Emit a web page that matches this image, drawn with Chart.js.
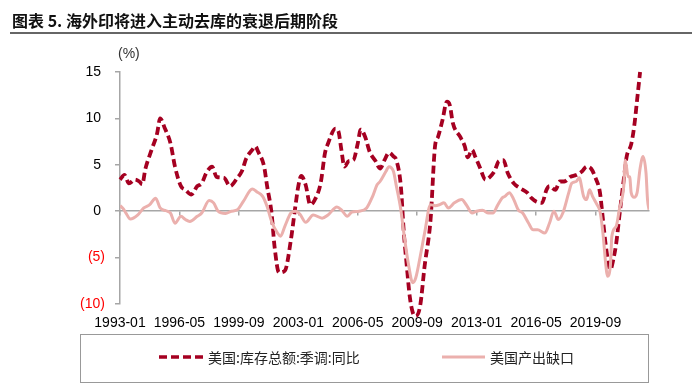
<!DOCTYPE html>
<html>
<head>
<meta charset="utf-8">
<script src="https://cdn.jsdelivr.net/npm/chart.js@4.4.0/dist/chart.umd.min.js"></script>
<style>
    body { margin: 0; background: #fff; }
    #wrap { position: relative; width: 694px; height: 389px; overflow: hidden; font-family: "Noto Sans CJK SC", sans-serif; }
    #titulo { position: absolute; left: 12px; top: 10px; font-size: 16px; font-weight: bold; color: #111; line-height: 20px; white-space: nowrap; }
    #linha { position: absolute; left: 10px; top: 32px; width: 682px; border-top: 2px solid #666; }
    #unidade { position: absolute; left: 118px; top: 45px; font: 14px "Liberation Sans", Arial, sans-serif; color: #333; }
    #grafico { position: absolute; left: 0; top: 0; }
    #legenda { position: absolute; left: 80px; top: 334px; width: 567px; height: 47px; border: 1px solid #999; }
    .item { position: absolute; top: 12px; height: 20px; display: flex; align-items: center; font-size: 14px; color: #222; white-space: nowrap; }
    .item svg { margin-right: 5px; }
</style>
</head>
<body>
<div id="wrap">
    <canvas id="grafico" width="694" height="389"></canvas>
    <div id="titulo">图表 5. 海外印将进入主动去库的衰退后期阶段</div>
    <div id="linha"></div>
    <div id="unidade">(%)</div>
    <div id="legenda">
        <div class="item" style="left:78px">
            <svg width="44" height="6"><line x1="0" y1="3" x2="44" y2="3" stroke="#A50021" stroke-width="3.5" stroke-dasharray="8 4"/></svg>美国:库存总额:季调:同比
        </div>
        <div class="item" style="left:361px">
            <svg width="43" height="6"><line x1="0" y1="3" x2="43" y2="3" stroke="#EBB0AD" stroke-width="3"/></svg>美国产出缺口
        </div>
    </div>
</div>
<script>
// meses contados a partir de 1993-01
const rotulosX = ['1993-01', '1996-05', '1999-09', '2003-01', '2006-05', '2009-09', '2013-01', '2016-05', '2019-09'];
const mesesRotulos = [0, 40, 80, 120, 160, 200, 240, 280, 320];
const mesFinal = 356;

// 美国:库存总额:季调:同比
const mesesEstoque = [0, 3, 6, 10, 13, 15, 17, 21, 25, 27, 30, 34, 37, 41, 44, 48, 52, 55, 58, 62,
    65, 70, 74, 79, 82, 85, 89, 91, 93, 97, 99, 102, 104, 107, 111, 115, 118, 120, 122, 125,
    128, 131, 135, 138, 140, 145, 147, 149, 151, 154, 157, 160, 162, 165, 168, 172, 175, 178, 181, 184,
    186, 189, 191, 193, 195, 197, 199, 202, 205, 209, 212, 214, 217, 220, 222, 224, 229, 232, 234, 237,
    239, 242, 246, 249, 252, 255, 258, 261, 265, 269, 274, 277, 280, 284, 287, 289, 293, 296, 299, 303,
    307, 311, 314, 317, 320, 323, 325, 327, 330, 332, 334, 336, 339, 341, 344, 346, 348, 350];
const estoque = [3.4, 3.9, 3.0, 3.4, 3.2, 2.9, 4.5, 6.5, 8.4, 10.0, 9.0, 7.3, 4.8, 2.7, 2.3, 1.8, 2.7, 3.0, 4.1, 4.8,
    3.7, 3.6, 2.7, 3.6, 4.3, 5.7, 6.6, 7.0, 6.4, 4.8, 2.7, -0.2, -3.8, -6.6, -6.4, -3.1, 0.5, 2.7, 3.8, 2.8,
    0.7, 1.2, 3.0, 6.3, 7.3, 8.9, 8.6, 6.6, 4.8, 5.4, 5.5, 7.3, 8.8, 8.0, 6.4, 5.4, 4.6, 5.5, 6.3, 5.9,
    5.5, 2.7, -2.3, -5.9, -9.2, -10.9, -11.3, -10.2, -5.9, -0.9, 7.0, 8.0, 9.8, 11.8, 11.4, 9.5, 8.0, 7.0, 5.8, 6.6,
    5.9, 4.8, 3.4, 3.7, 4.3, 5.4, 5.5, 4.1, 3.0, 2.5, 2.0, 1.4, 1.05, 0.9, 2.3, 2.7, 2.3, 3.2, 3.2, 3.7,
    3.9, 4.3, 4.8, 4.6, 3.6, 2.0, -0.9, -3.8, -6.3, -5.2, -3.4, -0.6, 3.4, 5.9, 7.2, 9.1, 12.0, 15.0];

// 美国产出缺口
const mesesHiato = [0, 2, 4, 7, 12, 16, 20, 24, 27, 31, 34, 37, 41, 44, 47, 52, 55, 60, 63, 66,
    71, 75, 79, 83, 89, 92, 96, 99, 102, 106, 108, 111, 115, 118, 121, 125, 130, 136, 140, 146,
    149, 153, 156, 161, 166, 170, 173, 175, 179, 181, 184, 186, 189, 191, 194, 197, 199, 202, 205, 209,
    212, 215, 218, 221, 225, 230, 233, 237, 240, 244, 248, 251, 254, 257, 259, 262, 265, 268, 271, 275,
    278, 281, 286, 289, 292, 295, 298, 302, 304, 307, 309, 312, 314, 316, 318, 321, 323, 325, 327, 328,
    330, 331, 334, 336, 339, 340, 342, 343, 344, 346, 348, 350, 352, 354, 355, 356];
const hiato = [0.6, 0.3, -0.2, -0.85, -0.4, 0.35, 0.7, 1.4, 0.35, 0.05, -0.2, -1.3, -0.55, -0.9, -1.1, -0.55, -0.2, 1.15, 0.9, 0.0,
    -0.25, 0.0, 0.15, 1.05, 2.4, 2.1, 1.6, 0.5, -1.1, -2.35, -2.7, -1.6, -0.2, 0.0, -0.3, -1.2, -0.4, -0.75, -0.4, 0.45,
    0.15, -0.55, -0.1, 0.0, 0.35, 1.6, 2.85, 3.2, 4.3, 4.8, 4.3, 2.7, 0.15, -2.35, -5.6, -7.7, -7.2, -4.9, -2.35, 0.7,
    0.6, 0.7, 0.9, 0.35, 0.9, 1.25, 0.7, -0.2, 0.0, 0.1, -0.2, -0.2, 0.6, 1.4, 1.6, 2.0, 1.25, 0.15, -0.2, -1.3,
    -2.0, -2.0, -2.35, -1.3, 0.0, -0.9, -0.2, 2.0, 3.0, 3.2, 3.6, 1.6, 1.25, 2.3, 1.6, 0.7, 0.0, -2.35, -5.9, -7.0,
    -5.9, -2.7, -1.6, 0.15, 2.7, 5.5, 3.7, 3.7, 2.0, 1.5, 2.0, 4.6, 5.9, 4.1, 1.25, 0.15];

const pontos = (meses, valores) => meses.map((m, i) => ({ x: m, y: valores[i] }));
const fixarTicks = escala => { escala.ticks = mesesRotulos.map(v => ({ value: v })); };
const cinza = '#a6a6a6';

Chart.defaults.font.family = '"Liberation Sans", Arial, sans-serif';

const ctx = document.getElementById('grafico').getContext('2d');
const grafico = new Chart(ctx, {
    type: 'line',
    data: {
        datasets: [{
            label: '美国:库存总额:季调:同比',
            data: pontos(mesesEstoque, estoque),
            xAxisID: 'x',
            borderColor: '#A50021',
            borderWidth: 3.8,
            borderDash: [8, 4],
            pointRadius: 0,
            cubicInterpolationMode: 'monotone',
            clip: false,
            order: 1
        }, {
            label: '美国产出缺口',
            data: pontos(mesesHiato, hiato),
            xAxisID: 'x',
            borderColor: '#EBB0AD',
            borderWidth: 3,
            pointRadius: 0,
            cubicInterpolationMode: 'monotone',
            order: 0
        }]
    },
    options: {
        responsive: false,
        animation: false,
        devicePixelRatio: 1,
        layout: { padding: { top: 72, right: 45, bottom: 0, left: 0 } },
        plugins: { legend: { display: false }, tooltip: { enabled: false } },
        scales: {
            x: {
                type: 'linear',
                position: 'bottom',
                min: 0,
                max: mesFinal,
                afterBuildTicks: fixarTicks,
                afterFit: s => { s.height = 85; },
                grid: { display: false },
                border: { display: false },
                ticks: {
                    padding: 3,
                    color: '#000',
                    font: { size: 14 },
                    maxRotation: 0,
                    autoSkip: false,
                    callback: v => rotulosX[mesesRotulos.indexOf(v)]
                }
            },
            // eixo do zero, so com tracinhos
            xz: {
                type: 'linear',
                axis: 'x',
                position: { y: 0 },
                min: 0,
                max: mesFinal,
                afterBuildTicks: fixarTicks,
                grid: { drawOnChartArea: false, color: cinza, tickLength: 4, lineWidth: 1.5 },
                border: { color: cinza, width: 1.5 },
                ticks: { callback: () => '' }
            },
            y: {
                min: -10,
                max: 15,
                afterFit: s => { s.width = 120; },
                grid: { drawOnChartArea: false, color: cinza, tickLength: 5, lineWidth: 1.5 },
                border: { color: cinza, width: 1.5 },
                ticks: {
                    stepSize: 5,
                    padding: 10,
                    font: { size: 14 },
                    color: c => c.tick.value < 0 ? '#FF0000' : '#000',
                    callback: v => v < 0 ? '(' + (-v) + ')' : v + ' '
                }
            }
        }
    }
});
</script>
</body>
</html>
